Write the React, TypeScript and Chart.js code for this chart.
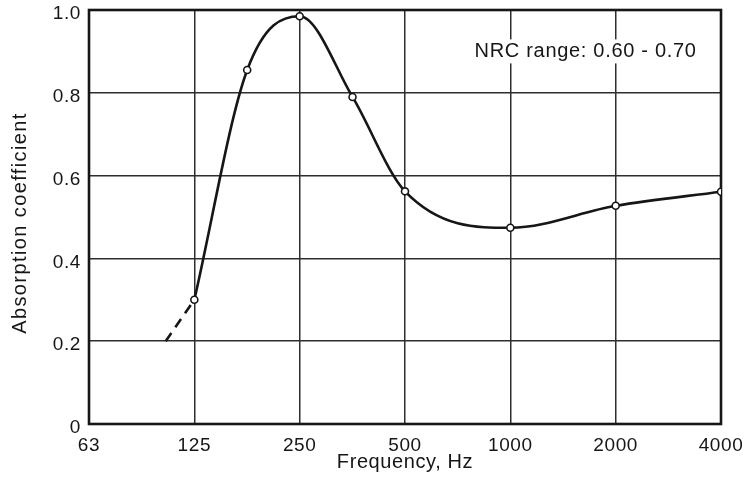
import React, { useEffect, useRef } from "react";
import { Chart, registerables } from "chart.js";

Chart.register(...registerables);

const frequencies = [125, 177, 250, 354, 500, 1000, 2000, 4000];
const absorption = [0.30, 0.855, 0.985, 0.79, 0.562, 0.474, 0.527, 0.561];
const dashFrequencies = [103.5, 125];
const dashAbsorption = [0.2, 0.30];
const tickValues = [62.5, 125, 250, 500, 1000, 2000, 4000];
const tickLabels = ["63", "125", "250", "500", "1000", "2000", "4000"];
const yTickValues = [0, 0.2, 0.4, 0.6, 0.8, 1.0];
const yTickLabels = ["0", "0.2", "0.4", "0.6", "0.8", "1.0"];
const noteText = "NRC range: 0.60 - 0.70";
const noteFreq = 790;
const noteValue = 0.9;
const xTitle = "Frequency, Hz";
const yTitle = "Absorption coefficient";

const FONT = "'Liberation Sans', Arial, Helvetica, sans-serif";
const INK = "#161616";

const framePlugin = {
  id: "frame",
  beforeUpdate(chart: any) {
    chart.ctx.letterSpacing = "0.6px";
  },
  beforeDraw(chart: any) {
    chart.ctx.letterSpacing = "0.6px";
  },
  beforeDatasetsDraw(chart: any) {
    const { ctx, chartArea } = chart;
    ctx.save();
    ctx.strokeStyle = INK;
    ctx.lineWidth = 2.6;
    ctx.strokeRect(chartArea.left, chartArea.top, chartArea.right - chartArea.left, chartArea.bottom - chartArea.top);
    const x = chart.scales.x.getPixelForValue(noteFreq);
    const y = chart.scales.y.getPixelForValue(noteValue);
    ctx.letterSpacing = "0.7px";
    ctx.font = `20px ${FONT}`;
    const w = ctx.measureText(noteText).width;
    ctx.fillStyle = "#ffffff";
    ctx.fillRect(x - 3, y - 12, w + 6, 24);
    ctx.fillStyle = INK;
    ctx.textBaseline = "middle";
    ctx.textAlign = "left";
    ctx.fillText(noteText, x, y);
    ctx.restore();
  },
  afterDraw(chart: any) {
    const { ctx, chartArea } = chart;
    ctx.save();
    ctx.fillStyle = INK;
    ctx.font = `20px ${FONT}`;
    ctx.textAlign = "center";
    ctx.textBaseline = "middle";
    ctx.letterSpacing = "1.4px";
    ctx.translate(20, (chartArea.top + chartArea.bottom) / 2 + 6);
    ctx.rotate(-Math.PI / 2);
    ctx.fillText(yTitle, 0, 0);
    ctx.restore();
  },
};

export default function App() {
  const ref = useRef<HTMLCanvasElement | null>(null);
  useEffect(() => {
    document.body.style.margin = "0";
    if (!ref.current) return;
    const chart = new Chart(ref.current, {
      type: "line",
      data: {
        datasets: [
          {
            data: frequencies.map((f, i) => ({ x: f, y: absorption[i] })),
            borderColor: INK,
            borderWidth: 2.6,
            cubicInterpolationMode: "monotone",
            pointRadius: 3.5,
            pointBackgroundColor: "#ffffff",
            pointBorderColor: INK,
            pointBorderWidth: 1.6,
            fill: false,
          },
          {
            data: dashFrequencies.map((f, i) => ({ x: f, y: dashAbsorption[i] })),
            borderColor: INK,
            borderWidth: 2.6,
            borderDash: [10, 7],
            pointRadius: 0,
            fill: false,
          },
        ],
      },
      options: {
        animation: false,
        responsive: false,
        maintainAspectRatio: false,
        layout: { padding: { left: 0, top: 10, right: 24, bottom: 0 } },
        plugins: { legend: { display: false }, tooltip: { enabled: false } },
        scales: {
          x: {
            type: "logarithmic",
            min: 62.5,
            max: 4000,
            afterBuildTicks: (scale: any) => {
              scale.ticks = tickValues.map((v) => ({ value: v }));
            },
            afterFit: (scale: any) => {
              scale.height = 63;
              scale.paddingLeft = 0;
              scale.paddingRight = 0;
            },
            ticks: {
              autoSkip: false,
              maxRotation: 0,
              padding: 10,
              color: INK,
              font: { family: FONT, size: 19 },
              callback: (_v: any, i: number) => tickLabels[i],
            },
            grid: { color: "#2e2e2e", lineWidth: 1.5, drawTicks: false },
            border: { display: false },
            title: {
              display: true,
              text: xTitle,
              color: INK,
              font: { family: FONT, size: 20 },
              padding: { top: 0, bottom: 13 },
            },
          },
          y: {
            min: 0,
            max: 1,
            afterBuildTicks: (scale: any) => {
              scale.ticks = yTickValues.map((v) => ({ value: v }));
            },
            afterFit: (scale: any) => {
              scale.width = 89;
              scale.paddingTop = 0;
              scale.paddingBottom = 0;
            },
            ticks: {
              padding: 8,
              labelOffset: 4,
              color: INK,
              font: { family: FONT, size: 19 },
              callback: (_v: any, i: number) => yTickLabels[i],
            },
            grid: { color: "#2e2e2e", lineWidth: 1.5, drawTicks: false },
            border: { display: false },
            title: { display: false },
          },
        },
      },
      plugins: [framePlugin],
    });
    return () => chart.destroy();
  }, []);
  return (
    <div style={{ position: "absolute", left: 0, top: 0, width: 745, height: 487, background: "#fff" }}>
      <canvas ref={ref} width={745} height={487} style={{ width: 745, height: 487 }} />
    </div>
  );
}
